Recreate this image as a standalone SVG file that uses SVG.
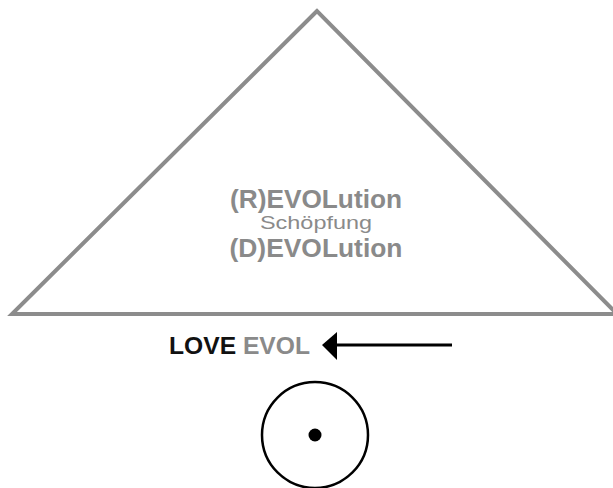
<svg xmlns="http://www.w3.org/2000/svg" width="613" height="488" viewBox="0 0 613 488">
<style>
.gray{fill:#8a8a8a}
.bold{font-family:"Liberation Sans","DejaVu Sans",sans-serif;font-weight:bold}
.light{font-family:"Liberation Sans","DejaVu Sans",sans-serif;font-weight:normal}
.tri{fill:none;stroke:#8c8c8c;stroke-width:4;stroke-linejoin:miter}
.conn{stroke:#000;stroke-width:3;fill:none}
</style>
<rect width="613" height="488" fill="#fff"/>
<g id="triangle">
<polygon class="tri" points="317,11 12,314 617,314"/>
<text class="bold gray" x="316" y="208" font-size="26" text-anchor="middle" textLength="172" lengthAdjust="spacingAndGlyphs">(R)EVOLution</text>
<text class="light gray" x="316" y="229" font-size="19" text-anchor="middle" textLength="112" lengthAdjust="spacingAndGlyphs">Schöpfung</text>
<text class="bold gray" x="316" y="257" font-size="26" text-anchor="middle" textLength="173" lengthAdjust="spacingAndGlyphs">(D)EVOLution</text>
</g>
<g id="love-evol">
<text class="bold" x="169" y="354" font-size="24" textLength="141" lengthAdjust="spacingAndGlyphs"><tspan fill="#111">LOVE </tspan><tspan class="gray">EVOL</tspan></text>
</g>
<g id="connectors">
<line class="conn" x1="452" y1="345" x2="334" y2="345"/>
<polygon points="322,345 337,332 337,360" fill="#000"/>
</g>
<g id="circle">
<circle cx="315" cy="435" r="53" fill="none" stroke="#000" stroke-width="2.5"/>
<circle cx="315" cy="435" r="6.5" fill="#000"/>
</g>
</svg>
